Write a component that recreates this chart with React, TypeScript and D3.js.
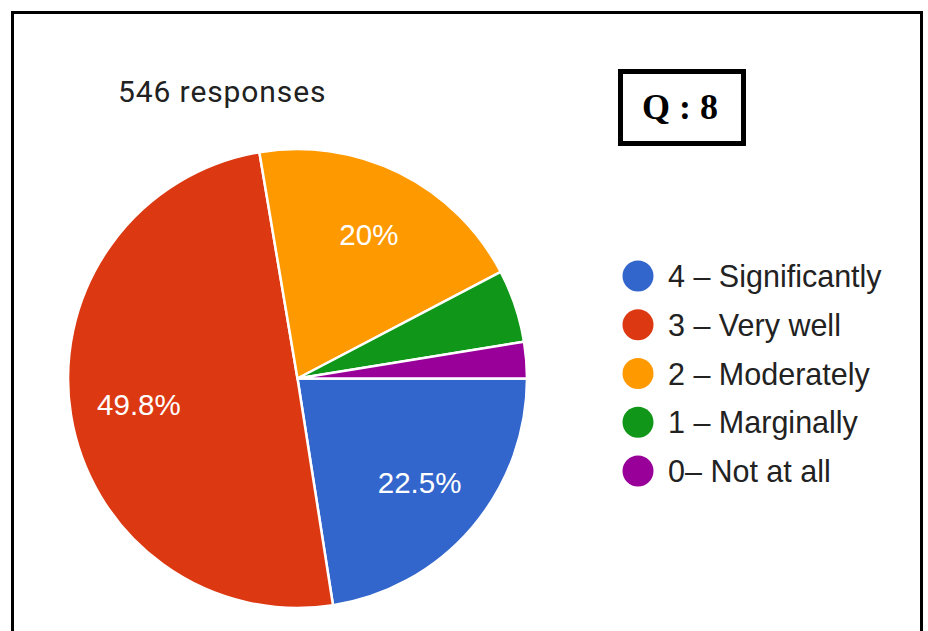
import React from "react";
import * as d3 from "d3";

const categories = ["4 – Significantly", "3 – Very well", "2 – Moderately", "1 – Marginally", "0– Not at all"];
const counts = [123, 272, 109, 28, 14];
const sliceLabels = ["22.5%", "49.8%", "20%", "", ""];
const colors = ["#3366CC", "#DC3912", "#FF9900", "#109618", "#990099"];
const totalLabel = "546 responses";
const questionLabel = "Q : 8";

const W = 928;
const H = 631;

export default function App() {
  const cx = 297.5;
  const cy = 378.5;
  const r = 229.5;

  const pie = d3
    .pie<number>()
    .sort(null)
    .startAngle(Math.PI / 2)
    .endAngle(Math.PI / 2 + 2 * Math.PI)
    .value((d) => d);
  const arcs = pie(counts);
  const arc = d3.arc<d3.PieArcDatum<number>>().innerRadius(0).outerRadius(r);
  const labelArc = d3.arc<d3.PieArcDatum<number>>().innerRadius(r * 0.7).outerRadius(r * 0.7);

  const legendY = d3.scalePoint<string>().domain(categories).range([276, 471]);

  return (
    <svg
      width={W}
      height={H}
      style={{ position: "absolute", left: 0, top: 0, background: "#fff" }}
    >
      <rect x={0} y={0} width={W} height={H} fill="#fff" />
      <rect x={12.5} y={12.5} width={909} height={H + 20} fill="none" stroke="#000" strokeWidth={3} />

      <text
        x={118}
        y={102}
        fontFamily="Roboto, sans-serif"
        fontSize={30}
        letterSpacing={0.9}
        fill="#212121"
      >
        {totalLabel}
      </text>

      <rect x={620.5} y={71.5} width={123} height={72} fill="#fff" stroke="#000" strokeWidth={5} />
      <text
        x={680}
        y={119}
        textAnchor="middle"
        fontFamily="'Liberation Serif', 'Times New Roman', serif"
        fontWeight="bold"
        fontSize={36}
        fill="#000"
      >
        {questionLabel}
      </text>

      <g transform={`translate(${cx},${cy})`}>
        {arcs.map((a, i) => (
          <path key={i} d={arc(a) || ""} fill={colors[i]} stroke="#fff" strokeWidth={2.5} />
        ))}
        {arcs.map((a, i) => {
          const [lx, ly] = labelArc.centroid(a);
          return sliceLabels[i] ? (
            <text
              key={"l" + i}
              x={lx}
              y={ly}
              textAnchor="middle"
              dominantBaseline="central"
              fontFamily="'Liberation Sans', Arial, sans-serif"
              fontSize={29.5}
              fill="#fff"
            >
              {sliceLabels[i]}
            </text>
          ) : null;
        })}
      </g>

      <g>
        {categories.map((c, i) => (
          <g key={c} transform={`translate(0,${legendY(c)})`}>
            <circle cx={638} cy={0} r={15.5} fill={colors[i]} />
            <text
              x={668}
              y={0}
              dominantBaseline="central"
              fontFamily="'Liberation Sans', Arial, sans-serif"
              fontSize={30.5}
              fill="#222"
            >
              {c}
            </text>
          </g>
        ))}
      </g>
    </svg>
  );
}
